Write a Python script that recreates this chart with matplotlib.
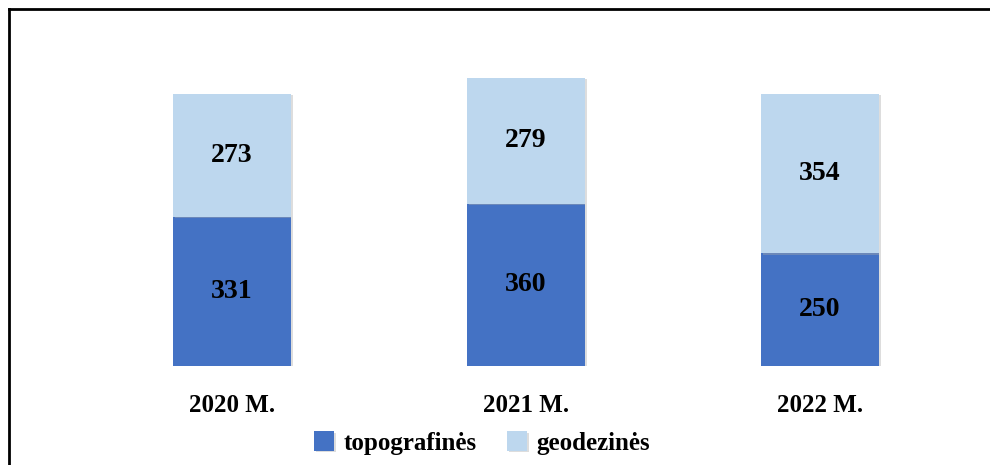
import matplotlib
matplotlib.use("Agg")
import matplotlib.pyplot as plt
from matplotlib.lines import Line2D
import matplotlib.patheffects as pe

categories = ["2020 M.", "2021 M.", "2022 M."]
topografines = [331, 360, 250]
geodezines = [273, 279, 354]
series_names = ["topografinės", "geodezinės"]
colors = ["#4472C4", "#BDD7EE"]

plt.rcParams["font.family"] = ["Liberation Serif", "DejaVu Serif"]

fig = plt.figure(figsize=(9.9, 4.65), dpi=100)
ax = fig.add_axes([85/990, 1-366/465, (967-85)/990, (366-40)/465])

x = range(len(categories))
shadow = [pe.SimplePatchShadow(offset=(1.5, -1.0), shadow_rgbFace="#aaaaaa", alpha=0.4), pe.Normal()]
b1 = ax.bar(x, topografines, width=0.40, color=colors[0], label=series_names[0], path_effects=shadow)
b2 = ax.bar(x, geodezines, width=0.40, bottom=topografines, color=colors[1], label=series_names[1], path_effects=shadow)

for i in x:
    ax.text(i, topografines[i]/2, str(topografines[i]), ha="center", va="center",
            fontsize=20, fontweight="bold", color="black")
    ax.text(i, topografines[i] + geodezines[i]/2, str(geodezines[i]), ha="center", va="center",
            fontsize=20, fontweight="bold", color="black")

ax.set_xlim(-0.5, 2.5)
ax.set_ylim(0, 723)
ax.set_xticks(list(x))
ax.set_xticklabels(categories, fontsize=18, fontweight="bold")
ax.tick_params(axis="x", length=0, pad=20)
ax.set_yticks([])
for s in ax.spines.values():
    s.set_visible(False)

leg = fig.legend(handles=[b1, b2], labels=series_names, loc="center", bbox_to_anchor=(482/990, 1-443/465),
                 ncol=2, frameon=False, prop={"size": 18, "weight": "bold"},
                 handlelength=0.8, handleheight=0.8, handletextpad=0.4, columnspacing=1.2)

# figure border (top and left)
fig.add_artist(Line2D([9/990, 9/990], [0, 1-9/465], color="black", lw=2, transform=fig.transFigure))
fig.add_artist(Line2D([9/990, 1], [1-9/465, 1-9/465], color="black", lw=2, transform=fig.transFigure))

fig.savefig("out.png", dpi=100)
